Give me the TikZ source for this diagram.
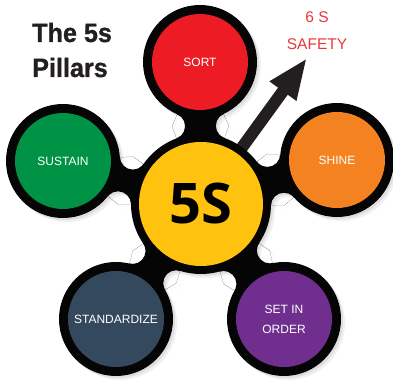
\documentclass[tikz,border=0pt]{standalone}
\usepackage{fontspec}
\setmainfont{Liberation Sans}
\newfontfamily\titlefont[FakeStretch=0.95,FakeBold=1]{Liberation Sans}
\newfontfamily\hubfont{Open Sans}
\usetikzlibrary{arrows.meta,intersections}

\definecolor{ringblack}{HTML}{050505}
\definecolor{arrowgray}{HTML}{231F20}
\definecolor{sortred}{HTML}{ED1C24}
\definecolor{shineorange}{HTML}{F58220}
\definecolor{sustaingreen}{HTML}{009245}
\definecolor{standardslate}{HTML}{34495E}
\definecolor{orderpurple}{HTML}{702F8F}
\definecolor{hubyellow}{HTML}{FFC20E}
\definecolor{safetyred}{HTML}{E8373E}

\tikzset{
  pillar/.style={circle, minimum size=96pt, inner sep=0pt, text=white,
    font=\fontsize{12}{20}\selectfont, align=center},
  hubdisc/.style={circle, minimum size=124pt, inner sep=0pt, fill=hubyellow,
    text=black, font=\hubfont\bfseries\fontsize{56}{60}\selectfont},
  safetytext/.style={anchor=base, inner sep=0pt, text=safetyred,
    font=\fontsize{15.5}{20}\selectfont},
  titletext/.style={anchor=base west, inner sep=0pt, text=arrowgray,
    font=\titlefont\bfseries\fontsize{26.5}{35}\selectfont},
  uparrow/.style={draw=arrowgray, line width=12pt,
    -{Triangle[length=41pt,width=30pt,fill=arrowgray]}},
}

% black body: hub ring, petal rings and the filleted necks between them
\newcommand{\pillarblob}[2]{%
  \begin{scope}[shift={#2}]
    \fill[#1] (201,178) circle (70pt);
    \foreach \px/\py in {200/320, 337/222, 63/221, 116/63, 284/63}{
      \fill[#1] (\px,\py) circle (57pt);
      \path[name path=hubring] (201,178) circle (83pt);
      \path[name path=petalring] (\px,\py) circle (70pt);
      \path[name intersections={of=hubring and petalring, by={fa,fb}}];
      \begin{scope}
        \clip (201,178) -- (fa) -- (\px,\py) -- (fb) -- cycle;
        \fill[#1, even odd rule] (201,178) -- (fa) -- (\px,\py) -- (fb) -- cycle
          (fa) circle (13pt) (fb) circle (13pt);
      \end{scope}
    }
  \end{scope}}

\begin{document}
\begin{tikzpicture}[x=1pt,y=1pt]
\useasboundingbox (0,0) rectangle (393,382);

% soft shadow
\pillarblob{black!6}{(4,-4)}
\pillarblob{black!13}{(2,-2)}

\coordinate (hubc) at (201,178);
\coordinate (safetytip) at (307,324);
\draw[uparrow] (hubc) -- (safetytip);

\pillarblob{ringblack}{(0,0)}

\node[pillar, fill=sortred] (sort) at (200,320) {SORT};
\node[pillar, fill=shineorange] (shine) at (337,222) {SHINE};
\node[pillar, fill=sustaingreen] (sustain) at (63,221) {SUSTAIN};
\node[pillar, fill=standardslate] (standardize) at (116,63) {STANDARDIZE};
\node[pillar, fill=orderpurple] (setorder) at (284,63) {SET IN\\ORDER};
\node[hubdisc] (hub) at (hubc) {5S};

\node[safetytext] (sixs) at (317,359) {6 S};
\node[safetytext] (safety) at (317,332) {SAFETY};

\node[titletext] (titletop) at (32,340) {The 5s};
\node[titletext] (titlebottom) at (32,305) {Pillars};
\end{tikzpicture}
\end{document}
